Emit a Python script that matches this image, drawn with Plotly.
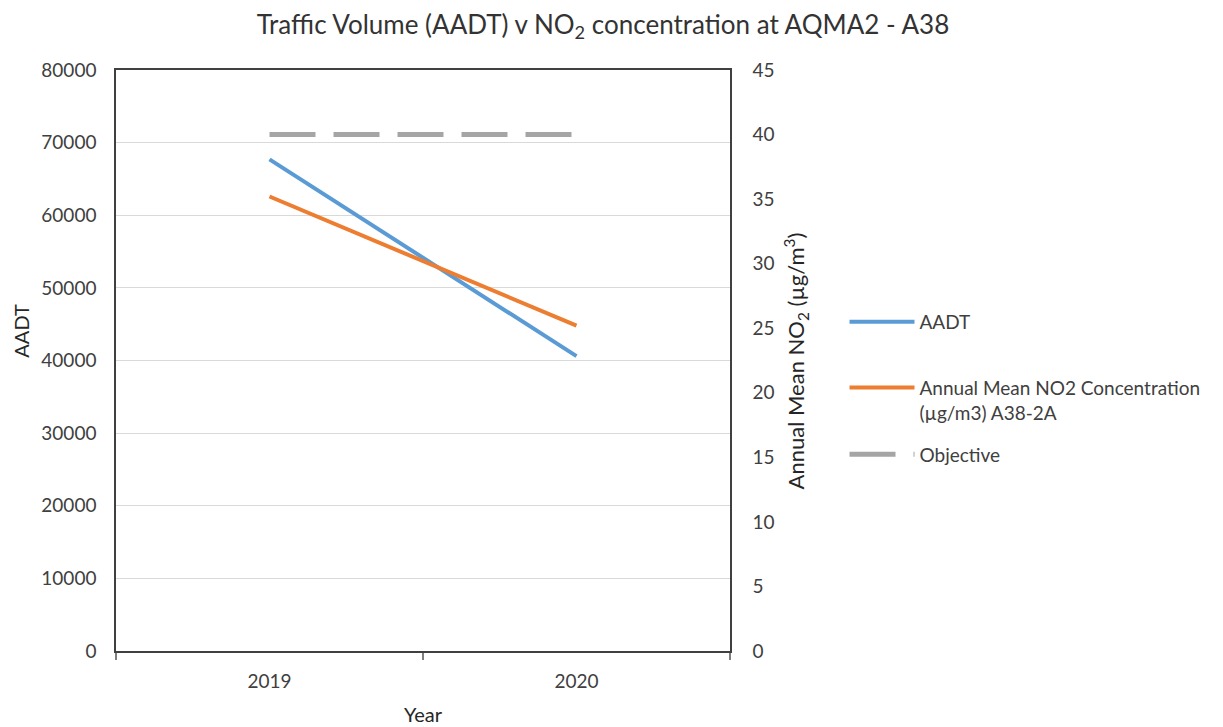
import plotly.graph_objects as go

years = ["2019", "2020"]
aadt = [67700, 40600]
no2 = [35.2, 25.2]
objective = [40, 40]

left_ticks = [0, 10000, 20000, 30000, 40000, 50000, 60000, 70000, 80000]
left_labels = ["0", "10000", "20000", "30000", "40000", "50000", "60000", "70000", "80000"]
right_ticks = [0, 5, 10, 15, 20, 25, 30, 35, 40, 45]

FONT = "Lato"
TXT = "#404040"
TS = 19

fig = go.Figure()
fig.add_trace(go.Scatter(x=years, y=aadt, mode="lines", name="AADT", showlegend=True,
                         line=dict(color="#5B9BD5", width=4), yaxis="y", legend="legend"))
fig.add_trace(go.Scatter(x=years, y=no2, mode="lines", showlegend=True,
                         name="Annual Mean NO2 Concentration<br>(µg/m3) A38-2A",
                         line=dict(color="#ED7D31", width=4), yaxis="y2", legend="legend2"))
fig.add_trace(go.Scatter(x=years, y=objective, mode="lines", name="Objective", showlegend=True,
                         line=dict(color="#A5A5A5", width=5, dash="46px,18px"), yaxis="y2", legend="legend3"))

legend_common = dict(font=dict(family=FONT, size=TS, color=TXT), bgcolor="rgba(0,0,0,0)",
                     xanchor="left", yanchor="top", itemwidth=65, valign="top")

fig.update_layout(
    width=1223, height=727,
    showlegend=True,
    margin=dict(l=116, r=493, t=70, b=76),
    paper_bgcolor="white", plot_bgcolor="white",
    font=dict(family=FONT, size=TS, color=TXT),
    title=dict(text="Traffic Volume (AADT) v NO<sub>2</sub> concentration at AQMA2 - A38",
               x=0.493, xanchor="center", y=0.966, yanchor="middle",
               font=dict(family=FONT, size=26, color="#333333")),
    xaxis=dict(type="category", range=[-0.5, 1.5], tickson="boundaries",
               ticks="outside", ticklen=7, tickcolor="#7f7f7f", tickwidth=1.5,
               showline=True, linecolor="#404040", linewidth=1.5, mirror=True,
               showgrid=False, ticklabelstandoff=12,
               tickfont=dict(family=FONT, size=TS, color=TXT)),
    yaxis=dict(range=[0, 80000], tickvals=left_ticks, ticktext=left_labels, ticks="",
               showline=True, linecolor="#404040", linewidth=1.5,
               showgrid=True, gridcolor="#D9D9D9", gridwidth=1, zeroline=False,
               ticklabelstandoff=14,
               tickfont=dict(family=FONT, size=TS, color=TXT)),
    yaxis2=dict(range=[0, 45], tickvals=right_ticks, overlaying="y", side="right",
                showline=True, linecolor="#404040", linewidth=1.5,
                showgrid=False, zeroline=False, ticklabelstandoff=17,
                tickfont=dict(family=FONT, size=TS, color=TXT)),
    legend=dict(x=1.1865, y=0.599, **legend_common),
    legend2=dict(x=1.1865, y=0.486, **legend_common),
    legend3=dict(x=1.1865, y=0.371, **legend_common),
    annotations=[
        dict(text="AADT", xref="paper", yref="paper", x=-0.155, y=0.551, textangle=-90,
             showarrow=False, xanchor="center", yanchor="middle",
             font=dict(family=FONT, size=20, color="#262626")),
        dict(text="Annual Mean NO<sub>2</sub> (µg/m<sup>3</sup>)", xref="paper", yref="paper",
             x=1.108, y=0.499, textangle=-90, showarrow=False, xanchor="center", yanchor="middle",
             font=dict(family=FONT, size=22, color="#262626")),
        dict(text="Year", xref="paper", yref="paper", x=0.5, y=-0.108,
             showarrow=False, xanchor="center", yanchor="middle",
             font=dict(family=FONT, size=20, color="#262626")),
    ],
)

fig.write_html("out.html")
